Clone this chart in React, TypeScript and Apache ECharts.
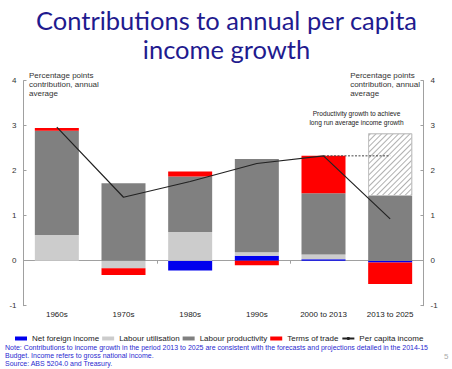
import React, { useEffect, useRef } from "react";
import * as echarts from "echarts";

const categories = ["1960s", "1970s", "1980s", "1990s", "2000 to 2013", "2013 to 2025"];
const netForeignIncome = [0, 0, -0.22, 0.11, 0.03, -0.04];
const labourUtilisation = [0.57, -0.17, 0.64, 0.08, 0.11, 0];
const labourProductivity = [2.32, 1.72, 1.23, 2.07, 1.36, 1.44];
const termsOfTrade = [0.06, -0.15, 0.11, -0.1, 0.83, -0.48];
const productivityTarget = [null, null, null, null, null, 1.39];
const perCapitaIncome = [2.97, 1.41, 1.76, 2.16, 2.33, 0.93];
const longRunAverage = [null, null, null, null, 2.33, 2.33];
const yTicks = { min: -1, max: 4, interval: 1 };

const FONT = "'Liberation Sans', Arial, sans-serif";

export default function App() {
  const ref = useRef<HTMLDivElement>(null);
  useEffect(() => {
    if (!ref.current) return;
    const chart = echarts.init(ref.current, null, { renderer: "svg" });
    const axisGray = "#a0a0a0";
    const yAxisBase = {
      type: "value",
      min: yTicks.min,
      max: yTicks.max,
      interval: yTicks.interval,
      splitLine: { show: false },
      axisLine: { show: true, lineStyle: { color: axisGray, width: 1 } },
      axisTick: { show: true, inside: true, length: 3, lineStyle: { color: axisGray } },
      axisLabel: { fontSize: 8, color: "#333", fontFamily: FONT, margin: 7 },
    };
    const barBase = {
      type: "bar",
      stack: "total",
      barCategoryGap: "34%",
      xAxisIndex: 0,
      yAxisIndex: 0,
    };
    chart.setOption({
      animation: false,
      textStyle: { fontFamily: FONT },
      grid: { left: 23.5, right: 28.5, top: 80.7, bottom: 63.3, containLabel: false },
      legend: {
        left: 15,
        top: 334.5,
        width: 437,
        padding: 0,
        itemWidth: 12,
        itemHeight: 4,
        itemGap: 3,
        textStyle: { fontSize: 8, color: "#222", fontFamily: FONT },
        data: [
          { name: "Net foreign income", icon: "rect" },
          { name: "Labour utilisation", icon: "rect" },
          { name: "Labour productivity", icon: "rect" },
          { name: "Terms of trade", icon: "rect" },
          { name: "Per capita income" },
        ],
      },
      xAxis: [
        {
          type: "category",
          data: categories,
          position: "bottom",
          axisLine: { show: false, onZero: false },
          axisTick: { show: false },
          axisLabel: { fontSize: 8, color: "#222", fontFamily: FONT, margin: 5, interval: 0 },
        },
        {
          type: "category",
          data: categories,
          position: "bottom",
          axisLine: { show: true, onZero: true, lineStyle: { color: axisGray, width: 1 } },
          axisTick: { show: true, length: 3, lineStyle: { color: axisGray } },
          axisLabel: { show: false },
        },
      ],
      yAxis: [
        { ...yAxisBase, position: "left" },
        { ...yAxisBase, position: "right" },
      ],
      series: [
        { ...barBase, name: "Net foreign income", data: netForeignIncome, itemStyle: { color: "#0000ee" } },
        { ...barBase, name: "Labour utilisation", data: labourUtilisation, itemStyle: { color: "#cccccc" } },
        { ...barBase, name: "Labour productivity", data: labourProductivity, itemStyle: { color: "#808080" } },
        { ...barBase, name: "Terms of trade", data: termsOfTrade, itemStyle: { color: "#ff0000" } },
        {
          ...barBase,
          name: "Productivity target",
          data: productivityTarget,
          itemStyle: {
            color: "#ffffff",
            borderColor: "#c0c0c0",
            borderWidth: 0.8,
            decal: {
              symbol: "rect",
              symbolSize: 1,
              color: "#b0b0b0",
              dashArrayX: [1, 0],
              dashArrayY: [1, 3],
              rotation: -Math.PI / 4,
            },
          },
        },
        {
          type: "line",
          name: "Per capita income",
          data: perCapitaIncome,
          symbol: "none",
          z: 5,
          lineStyle: { color: "#222", width: 1.2 },
          itemStyle: { color: "#222" },
        },
        {
          type: "line",
          name: "Long run average",
          data: longRunAverage,
          symbol: "none",
          z: 4,
          lineStyle: { color: "#444", width: 1, type: [2, 1.5] },
        },
      ],
      graphic: [
        {
          type: "text",
          x: 226.5,
          y: 6,
          style: {
            text: "Contributions to annual per capita\nincome growth",
            fontFamily: "Lato, sans-serif",
            fontSize: 25.5,
            lineHeight: 28.5,
            fill: "#1f1b8f",
            align: "center",
          },
        },
        {
          type: "text",
          left: 29,
          top: 70.5,
          style: {
            text: "Percentage points\ncontribution, annual\naverage",
            fontSize: 8,
            lineHeight: 9,
            fill: "#333",
            fontFamily: FONT,
          },
        },
        {
          type: "text",
          right: 32,
          top: 70.5,
          style: {
            text: "Percentage points\ncontribution, annual\naverage",
            fontSize: 8,
            lineHeight: 9,
            fill: "#333",
            align: "right",
            fontFamily: FONT,
          },
        },
        {
          type: "text",
          x: 356.5,
          y: 109.5,
          style: {
            text: "Productivity growth to achieve\nlong run average income growth",
            fontSize: 6.6,
            lineHeight: 8.7,
            fill: "#222",
            align: "center",
            fontFamily: FONT,
          },
        },
        {
          type: "text",
          x: 5,
          y: 343.3,
          style: {
            text:
              "Note: Contributions to income growth in the period 2013 to 2025 are consistent with the forecasts and projections detailed in the 2014-15\nBudget. Income refers to gross national income.\nSource: ABS 5204.0 and Treasury.",
            fontSize: 7,
            lineHeight: 8,
            fill: "#2a2ad0",
            fontFamily: FONT,
          },
        },
        {
          type: "text",
          x: 444,
          y: 352,
          style: { text: "5", fontSize: 8, fill: "#aaaaaa", fontFamily: FONT },
        },
      ],
    });
    return () => chart.dispose();
  }, []);
  return (
    <div
      ref={ref}
      style={{ position: "absolute", left: 0, top: 0, width: 452, height: 369 }}
    />
  );
}
